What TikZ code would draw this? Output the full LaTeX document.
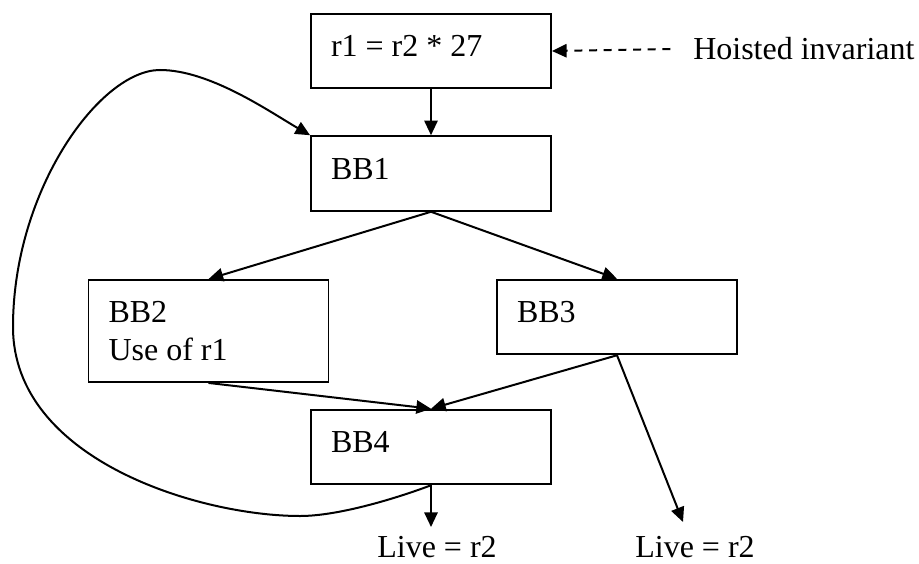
\documentclass[tikz,border=0pt]{standalone}
\usepackage{fontspec}
\setmainfont{Liberation Serif}
\usetikzlibrary{arrows.meta}

\begin{document}
\begin{tikzpicture}[x=0.75pt,y=0.75pt,yscale=-1,xscale=1,
    every node/.style={font=\fontsize{24}{28.5}\selectfont},
    block/.style={draw, line width=1.4pt, minimum width=180pt, minimum height=56pt, text width=150pt, inner xsep=15pt, align=flush left},
    lineblock/.style={block, text depth=7.5pt},
    flow/.style={line width=1.5pt, -{Triangle[length=11pt,width=10pt]}}]

    \useasboundingbox (0,0) rectangle (919,563);

    \node [lineblock] (inv) at (431,51) {r1 = r2 * 27};
    \node [lineblock] (bb1) at (431,173.5) {BB1};
    \node [block, minimum height=76.5pt] (bb2) at (208.5,331) {BB2\\Use of r1};
    \node [lineblock] (bb3) at (617,317) {BB3};
    \node [lineblock] (bb4) at (431,447) {BB4};

    \node [anchor=west, inner sep=0pt] (hoist) at (693,49) {Hoisted invariant};
    \node [inner sep=0pt] (live4) at (437,547) {Live = r2};
    \node [inner sep=0pt] (live3) at (695,547) {Live = r2};
    \coordinate (end4) at (431,527);
    \coordinate (end3) at (683,522);

    \draw [flow] (inv.south) -- (bb1.north);
    \draw [flow] (bb1.south) -- (bb2.north);
    \draw [flow] (bb1.south) -- (bb3.north);
    \draw [flow] (bb2.south) -- (bb4.north);
    \draw [flow] (bb3.south) -- (bb4.north);
    \draw [flow] (bb3.south) -- (end3);
    \draw [flow] (bb4.south) -- (end4);
    \draw [flow, dash pattern=on 6pt off 5pt] ([xshift=-17pt]hoist.west) -- (inv.east);
    \draw [flow] (bb4.south) .. controls (400,497) and (340,516) .. (300,516) .. controls (200,516) and (13,460) .. (13,327) .. controls (13,190) and (100,70) .. (160,70) .. controls (210,70) and (270,112) .. (bb1.north west);

\end{tikzpicture}
\end{document}
